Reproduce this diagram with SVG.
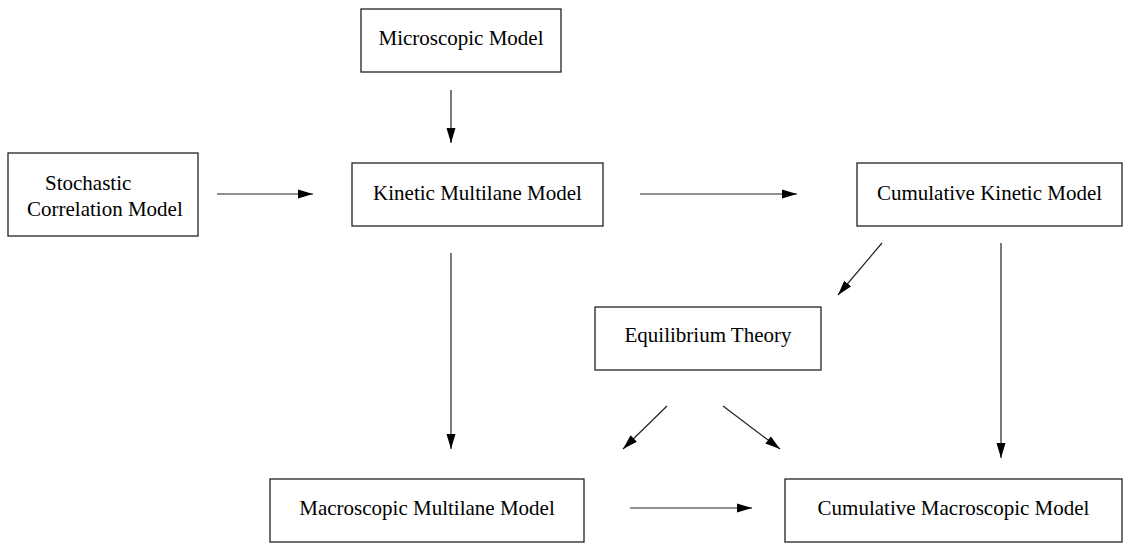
<svg xmlns="http://www.w3.org/2000/svg" width="1138" height="550" viewBox="0 0 1138 550">
<defs>
<style>
.box{fill:#fff;stroke:#222;stroke-width:1.3}
.lbl{font-family:"Liberation Serif","Times New Roman",serif;font-size:21px;fill:#000}
.c{text-anchor:middle}
.edge{stroke:#222;stroke-width:1.2;fill:none;marker-end:url(#ah)}
</style>
<marker id="ah" markerUnits="userSpaceOnUse" markerWidth="16" markerHeight="10" viewBox="0 0 16 10" refX="15" refY="5" orient="auto">
<path d="M0,0.5 L15,5 L0,9.5 z" fill="#000"/>
</marker>
</defs>
<rect width="1138" height="550" fill="#fff"/>
<g id="micro"><rect class="box" x="361" y="9" width="200" height="63"/><text class="lbl c" x="461" y="45">Microscopic Model</text></g>
<g id="stoch"><rect class="box" x="8" y="153" width="190" height="83"/><text class="lbl" x="45" y="190">Stochastic</text><text class="lbl" x="27" y="216">Correlation Model</text></g>
<g id="kinetic"><rect class="box" x="352" y="163" width="251" height="63"/><text class="lbl c" x="477.5" y="200">Kinetic Multilane Model</text></g>
<g id="cumkin"><rect class="box" x="857" y="163" width="265" height="63"/><text class="lbl c" x="989.5" y="200">Cumulative Kinetic Model</text></g>
<g id="equil"><rect class="box" x="595" y="307" width="226" height="63"/><text class="lbl c" x="708" y="342">Equilibrium Theory</text></g>
<g id="macro"><rect class="box" x="270" y="479" width="314" height="63"/><text class="lbl c" x="427" y="515">Macroscopic Multilane Model</text></g>
<g id="cummacro"><rect class="box" x="785" y="479" width="337" height="63"/><text class="lbl c" x="953.5" y="515">Cumulative Macroscopic Model</text></g>
<g id="connectors">
<line class="edge" x1="451" y1="90" x2="451" y2="143"/>
<line class="edge" x1="217" y1="194" x2="313" y2="194"/>
<line class="edge" x1="640" y1="194" x2="797" y2="194"/>
<line class="edge" x1="882" y1="243" x2="838" y2="295"/>
<line class="edge" x1="1001" y1="243" x2="1001" y2="458"/>
<line class="edge" x1="451" y1="253" x2="451" y2="449"/>
<line class="edge" x1="667" y1="406" x2="623" y2="449"/>
<line class="edge" x1="723" y1="406" x2="780" y2="449"/>
<line class="edge" x1="630" y1="508" x2="752" y2="508"/>
</g>
</svg>
